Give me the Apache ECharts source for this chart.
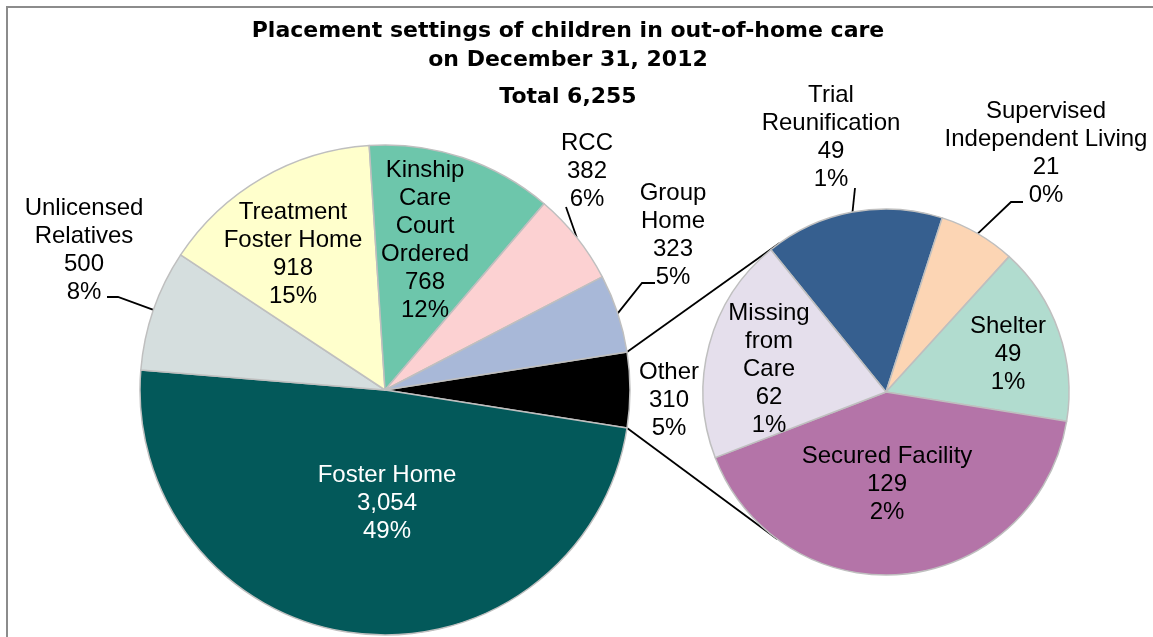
<!DOCTYPE html>
<html>
<head>
<meta charset="utf-8">
<title>Placement settings of children in out-of-home care</title>
<script src="https://cdn.jsdelivr.net/npm/echarts@6/dist/echarts.min.js"></script>
<style>
  html, body { margin: 0; padding: 0; background: #fff; }
  #chart { width: 1153px; height: 637px; }
</style>
</head>
<body>
<div id="chart"></div>
<script>
// main pie, clockwise from the "Other" slice
const mainNames = ['Other', 'Foster Home', 'Unlicensed\nRelatives', 'Treatment\nFoster Home',
  'Kinship\nCare\nCourt\nOrdered', 'RCC', 'Group\nHome']
const mainValues = [310, 3054, 500, 918, 768, 382, 323]

// breakdown of "Other", clockwise
const otherNames = ['Trial\nReunification', 'Supervised\nIndependent Living', 'Shelter',
  'Secured Facility', 'Missing\nfrom\nCare']
const otherValues = [49, 21, 49, 129, 62]

const mainColors = ['#000000', '#03595a', '#d5dede', '#ffffcc', '#6dc6ab', '#fcd1d2', '#a8b8d8']
const otherColors = ['#365f8f', '#fcd5b4', '#b1dccf', '#b474a8', '#e5dfec']

// layout
const MAIN_CENTER = [385, 390]
const MAIN_R = 245
const SUB_CENTER = [886, 392]
const SUB_R = 183
const SUB_START = 129

// label centres + leader points (after the slice edge point)
const mainLabelPos = [[669, 400], [387, 503], [84, 250], [293, 254], [425, 240], [587, 171], [673, 235]]
const mainLeaders = [null, null, [[118, 297], [107, 297]], null, null, [[566, 207], [566, 207]], [[642, 283], [655, 283]]]
const subLabelPos = [[831, 137], [1046, 153], [1008, 354], [887, 484], [769, 369]]
const subLeaders = [[[855, 188], [855, 188]], [[1011, 202], [1023, 202]], null, null, null]

const TOTAL = mainValues.reduce((a, b) => a + b, 0)
const fmt = n => n.toLocaleString('en-US')
const pct = n => Math.round(n / TOTAL * 100) + '%'

const LABEL_FONT = { fontFamily: 'Liberation Sans', fontSize: 24, lineHeight: 28, color: '#000' }

function buildData(names, values, colors, leaders, whiteIdx) {
  return names.map((name, i) => ({
    name,
    value: values[i],
    itemStyle: { color: colors[i] },
    label: i === whiteIdx ? { color: '#fff' } : {},
    labelLine: { show: !!leaders[i] },
  }))
}

function layoutFor(pos, leaders) {
  return function (params) {
    const i = params.dataIndex
    const out = { x: pos[i][0], y: pos[i][1], align: 'center', verticalAlign: 'middle' }
    if (leaders[i] && params.labelLinePoints) {
      out.labelLinePoints = [params.labelLinePoints[0]].concat(leaders[i])
    }
    return out
  }
}

// Other slice is centred on 3 o'clock
const halfOther = mainValues[0] / TOTAL * 180
const rad = halfOther * Math.PI / 180
const edgeTop = [MAIN_CENTER[0] + MAIN_R * Math.cos(rad), MAIN_CENTER[1] - MAIN_R * Math.sin(rad)]
const edgeBot = [MAIN_CENTER[0] + MAIN_R * Math.cos(rad), MAIN_CENTER[1] + MAIN_R * Math.sin(rad)]

function tangentPoint(p, c, r, upper) {
  const dx = p[0] - c[0], dy = p[1] - c[1]
  const th = Math.atan2(dy, dx)
  const a = Math.acos(r / Math.hypot(dx, dy))
  const t1 = [c[0] + r * Math.cos(th + a), c[1] + r * Math.sin(th + a)]
  const t2 = [c[0] + r * Math.cos(th - a), c[1] + r * Math.sin(th - a)]
  if (upper) return t1[1] < t2[1] ? t1 : t2
  return t1[1] > t2[1] ? t1 : t2
}
const tanTop = tangentPoint(edgeTop, SUB_CENTER, SUB_R, true)
const tanBot = tangentPoint(edgeBot, SUB_CENTER, SUB_R, false)

const chart = echarts.init(document.getElementById('chart'))

const titleStyle = { fontFamily: 'DejaVu Sans', fontWeight: 'bold', fontSize: 22, lineHeight: 29.6, color: '#000' }

chart.setOption({
  animation: false,
  backgroundColor: '#fff',
  title: [
    {
      text: 'Placement settings of children in out-of-home care\non December 31, 2012',
      left: 568, top: 16, textAlign: 'center', padding: 0,
      textStyle: titleStyle,
    },
    {
      text: 'Total ' + fmt(TOTAL),
      left: 568, top: 82, textAlign: 'center', padding: 0,
      textStyle: titleStyle,
    },
  ],
  graphic: [
    { type: 'rect', shape: { x: 7, y: 7, width: 1300, height: 800 }, style: { fill: 'none', stroke: '#8c8c8c', lineWidth: 2 }, z: -1 },
    { type: 'line', shape: { x1: edgeTop[0], y1: edgeTop[1], x2: tanTop[0], y2: tanTop[1] }, style: { stroke: '#000', lineWidth: 1.8 } },
    { type: 'line', shape: { x1: edgeBot[0], y1: edgeBot[1], x2: tanBot[0], y2: tanBot[1] }, style: { stroke: '#000', lineWidth: 1.8 } },
  ],
  series: [
    {
      type: 'pie',
      center: MAIN_CENTER,
      radius: MAIN_R,
      startAngle: halfOther,
      clockwise: true,
      avoidLabelOverlap: false,
      itemStyle: { borderColor: '#bfbfbf', borderWidth: 1.5 },
      label: {
        position: 'outside',
        formatter: p => p.name + '\n' + fmt(p.value) + '\n' + pct(p.value),
        ...LABEL_FONT,
      },
      labelLine: { lineStyle: { color: '#000', width: 1.8 } },
      labelLayout: layoutFor(mainLabelPos, mainLeaders),
      emphasis: { disabled: true },
      data: buildData(mainNames, mainValues, mainColors, mainLeaders, 1),
    },
    {
      type: 'pie',
      center: SUB_CENTER,
      radius: SUB_R,
      startAngle: SUB_START,
      clockwise: true,
      avoidLabelOverlap: false,
      itemStyle: { borderColor: '#bfbfbf', borderWidth: 1.5 },
      label: {
        position: 'outside',
        formatter: p => p.name + '\n' + fmt(p.value) + '\n' + pct(p.value),
        ...LABEL_FONT,
      },
      labelLine: { lineStyle: { color: '#000', width: 1.8 } },
      labelLayout: layoutFor(subLabelPos, subLeaders),
      emphasis: { disabled: true },
      data: buildData(otherNames, otherValues, otherColors, subLeaders, -1),
    },
  ],
})
</script>
</body>
</html>
